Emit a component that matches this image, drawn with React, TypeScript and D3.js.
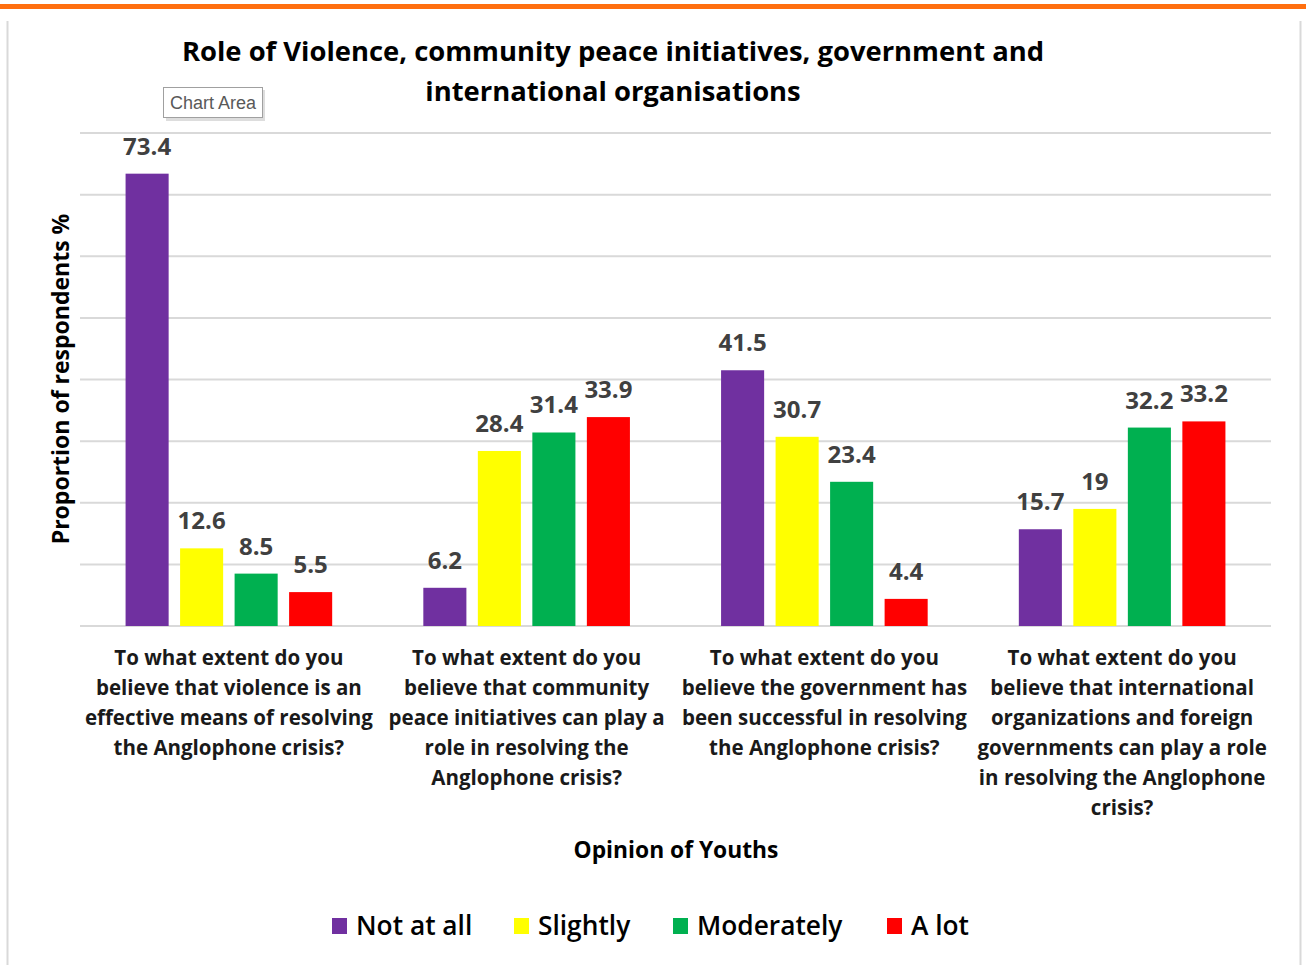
import React from "react";
import * as d3 from "d3";

const categories = [
  "To what extent do you|believe that violence is an|effective means of resolving|the Anglophone crisis?",
  "To what extent do you|believe that community|peace initiatives can play a|role in resolving the|Anglophone crisis?",
  "To what extent do you|believe the government has|been successful in resolving|the Anglophone crisis?",
  "To what extent do you|believe that international|organizations and foreign|governments can play a role|in resolving the Anglophone|crisis?",
];
const seriesNames = ["Not at all", "Slightly", "Moderately", "A lot"];
const notAtAll = [73.4, 6.2, 41.5, 15.7];
const slightly = [12.6, 28.4, 30.7, 19];
const moderately = [8.5, 31.4, 23.4, 32.2];
const aLot = [5.5, 33.9, 4.4, 33.2];
const seriesValues = [notAtAll, slightly, moderately, aLot];
const colors = ["#7030A0", "#FFFF00", "#00B050", "#FF0000"];
const yTicks = [0, 10, 20, 30, 40, 50, 60, 70, 80];

const FONT = "'Open Sans', sans-serif";

export default function App() {
  const W = 1306, H = 965;
  const left = 80, right = 1271, top = 133, bottom = 626;
  const x0 = d3.scaleBand<number>().domain(d3.range(categories.length)).range([left, right]).padding(0);
  const bw = x0.bandwidth();
  const x1 = d3.scaleBand<number>().domain(d3.range(4)).range([bw / 2 - 103.3, bw / 2 + 103.3]).paddingInner(0.21).paddingOuter(0);
  const y = d3.scaleLinear().domain([0, 80]).range([bottom, top]);

  const legendX = [332, 514, 673, 887];

  return (
    <svg width={W} height={H} style={{ position: "absolute", left: 0, top: 0, background: "#fff" }} fontFamily={FONT}>
      <rect x={0} y={0} width={W} height={H} fill="#fff" />
      <rect x={0} y={4} width={W} height={5} fill="#FF6F0F" />
      <line x1={7.5} x2={7.5} y1={21} y2={H} stroke="#d9d9d9" strokeWidth={2} />
      <line x1={1300.5} x2={1300.5} y1={21} y2={H} stroke="#d9d9d9" strokeWidth={2} />

      <text x={613} y={61} textAnchor="middle" fontSize={27.4} fontWeight={700} fill="#000">
        Role of Violence, community peace initiatives, government and
      </text>
      <text x={613} y={101} textAnchor="middle" fontSize={27.4} fontWeight={700} fill="#000">
        international organisations
      </text>

      {yTicks.map((t) => (
        <line key={t} x1={left} x2={right} y1={y(t)} y2={y(t)} stroke="#d9d9d9" strokeWidth={2} />
      ))}

      {categories.map((c, ci) => (
        <g key={ci} transform={`translate(${x0(ci)},0)`}>
          {seriesValues.map((vals, si) => (
            <g key={si}>
              <rect x={x1(si)} y={y(vals[ci])} width={x1.bandwidth()} height={y(0) - y(vals[ci])} fill={colors[si]} />
              <text x={(x1(si) as number) + x1.bandwidth() / 2} y={y(vals[ci]) - 19} textAnchor="middle" fontSize={24} fontWeight={700} fill="#404040">
                {vals[ci]}
              </text>
            </g>
          ))}
          {c.split("|").map((line, li) => (
            <text key={li} x={bw / 2} y={665 + li * 30} textAnchor="middle" fontSize={20.5} fontWeight={700} fill="#1a1a1a">
              {line}
            </text>
          ))}
        </g>
      ))}

      <text transform={`translate(69,${(215 + 543) / 2}) rotate(-90)`} textAnchor="middle" fontSize={23} fontWeight={700} fill="#000">
        Proportion of respondents %
      </text>

      <text x={676} y={858} textAnchor="middle" fontSize={22.8} fontWeight={700} fill="#000">
        Opinion of Youths
      </text>

      {seriesNames.map((n, i) => (
        <g key={n}>
          <rect x={legendX[i]} y={918} width={15} height={16} fill={colors[i]} />
          <text x={legendX[i] + 24} y={935} fontSize={26.3} fontWeight={600} fill="#000">{n}</text>
        </g>
      ))}

      <g>
        <rect x={166} y={90} width={99} height={31} fill="#bbb" opacity={0.5} />
        <rect x={163.5} y={87.5} width={99} height={30} fill="#fff" stroke="#a0a0a0" strokeWidth={1} />
        <text x={213} y={109} textAnchor="middle" fontSize={18} fill="#595959" fontFamily="'Liberation Sans', Arial, sans-serif">Chart Area</text>
      </g>
    </svg>
  );
}
